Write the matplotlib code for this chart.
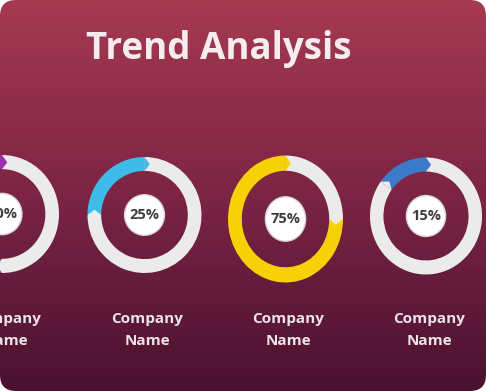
import matplotlib
matplotlib.use("Agg")
import matplotlib.pyplot as plt
from matplotlib.patches import FancyBboxPatch, Circle, Polygon
from matplotlib.colors import LinearSegmentedColormap
import numpy as np

# data
title = "Trend Analysis"
percents = [50, 25, 75, 15]
arc_colors = ["#9c2fab", "#3fbbe9", "#f5d105", "#3b7bc9"]
labels = ["Company\nName", "Company\nName", "Company\nName", "Company\nName"]

W, H = 486, 391
fig = plt.figure(figsize=(W / 100, H / 100), dpi=100, facecolor="white")

# background with rounded corners
bg = fig.add_axes([0, 0, 1, 1])
bg.set_xlim(0, W)
bg.set_ylim(H, 0)
bg.axis("off")
cmap = LinearSegmentedColormap.from_list("bg", ["#a63a51", "#7c2444", "#4a1131"])
grad = np.linspace(0, 1, 256).reshape(-1, 1)
im = bg.imshow(grad, cmap=cmap, extent=[0, W, H, 0], aspect="auto")
box = FancyBboxPatch((0, 0), W, H, boxstyle="round,pad=0,rounding_size=16",
                     facecolor="none", edgecolor="none", transform=bg.transData)
bg.add_patch(box)
im.set_clip_path(box)

bg.text(218.5, 49, title, ha="center", va="center", fontsize=26.5,
        fontweight="bold", family="Open Sans", color="#f4ecee")

# donut geometry (pixels)
cx = [2, 144.5, 285.5, 426]
cy = [214, 215, 219, 216]
rx = [57, 57, 57.5, 56]
ry = [59, 58, 63.5, 58.5]
ring_w = 0.24
gray = "#ebebeb"

for i, p in enumerate(percents):
    ax = fig.add_axes([(cx[i] - rx[i]) / W, 1 - (cy[i] + ry[i]) / H,
                       2 * rx[i] / W, 2 * ry[i] / H])
    ax.pie([p, 100 - p], colors=[arc_colors[i], gray], startangle=90,
           counterclock=True, radius=1, frame=True,
           wedgeprops=dict(width=ring_w, edgecolor="none", linewidth=0))
    # arrow head at the top and notch at the tail
    r_in, r_out, r_mid = 1 - ring_w, 1.0, 1 - ring_w / 2
    a0 = 90
    a1 = 90 + 360 * p / 100
    d = 6
    def pt(r, a):
        return (r * np.cos(np.radians(a)), r * np.sin(np.radians(a)))
    ax.add_patch(Polygon([pt(r_in, a0), pt(r_out, a0), pt(r_mid, a0 - d)],
                         closed=True, facecolor=arc_colors[i], edgecolor="none", zorder=3))
    ax.add_patch(Polygon([pt(r_in, a1), pt(r_out, a1), pt(r_mid, a1 - d)],
                         closed=True, facecolor=gray, edgecolor="none", zorder=3))
    ax.add_patch(Circle((0, 0), 0.35, facecolor="white", edgecolor="#d9d3d6",
                        linewidth=1, zorder=4))
    ax.text(0, 0, f"{p}%", ha="center", va="center", fontsize=10.5,
            fontweight="bold", family="Open Sans", color="#3d3d3d", zorder=5)
    ax.set_aspect("auto")
    ax.set_xlim(-1, 1)
    ax.set_ylim(-1, 1)
    ax.axis("off")

    bg.text(cx[i] + 3, 330, labels[i], ha="center", va="center", fontsize=11,
            fontweight="bold", family="Open Sans", color="#ece4e8",
            linespacing=1.7)

fig.savefig("out.png", dpi=100, facecolor="white")
